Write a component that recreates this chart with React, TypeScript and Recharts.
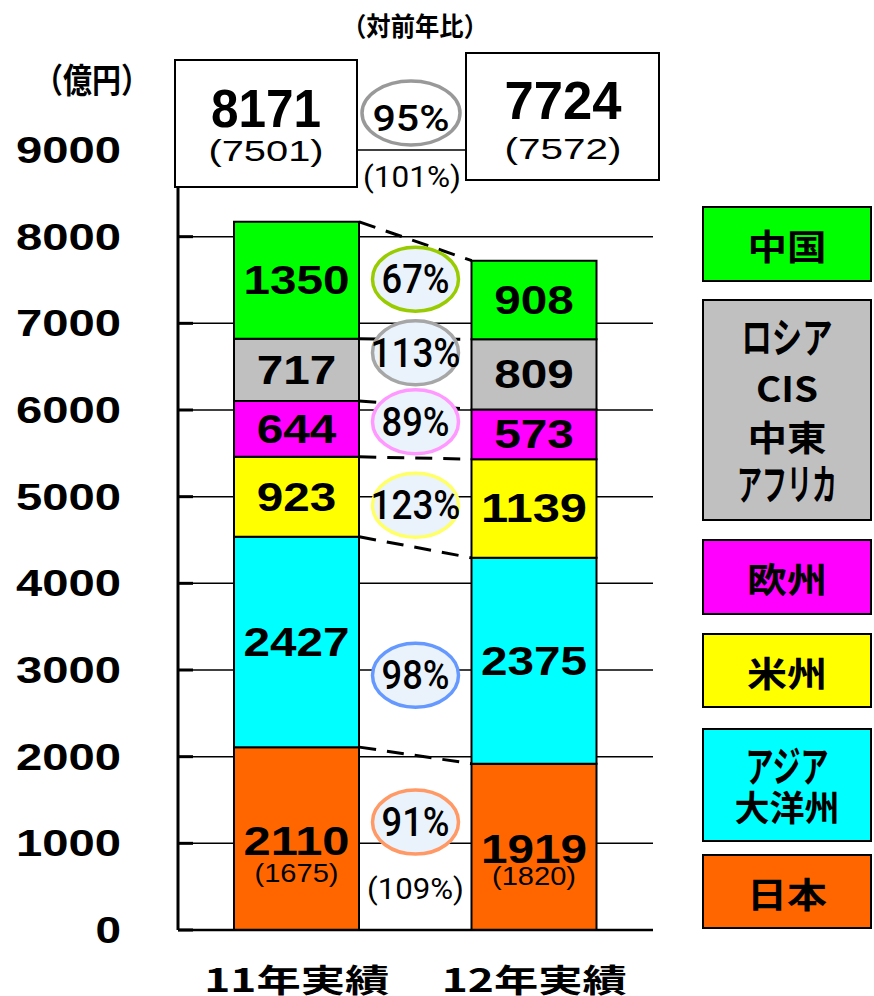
import React from "react";
import {
  BarChart,
  Bar,
  XAxis,
  YAxis,
  CartesianGrid,
  LabelList,
  ReferenceLine,
  ReferenceDot
} from "recharts";

const NUM = "'Liberation Sans', Arial, sans-serif";
const NARROW = "Roboto, 'Liberation Sans', Arial, sans-serif";
const JP = "'Noto Sans CJK JP', 'Noto Sans CJK SC', sans-serif";

// data
const years = ["11年実績", "12年実績"];
const regionKeys = ["japan", "asia", "americas", "europe", "russia", "china"];
const regionNames = [["日本"], ["アジア", "大洋州"], ["米州"], ["欧州"], ["ロシア", "CIS", "中東", "アフリカ"], ["中国"]];
const sales11 = [2110, 2427, 923, 644, 717, 1350];
const sales12 = [1919, 2375, 1139, 573, 809, 908];
const japanPrev = [1675, 1820];
const totals = [8171, 7724];
const totalsPrev = [7501, 7572];
const ratios = ["91%", "98%", "123%", "89%", "113%", "67%"];
const totalRatio = "95%";
const totalRatioPrev = "(101%)";
const japanRatioPrev = "(109%)";
const yTicks = [0, 1000, 2000, 3000, 4000, 5000, 6000, 7000, 8000, 9000];

// where the ratio ellipses sit (in 億円 on the y axis)
const ratioLevels = [1245, 2940, 4900, 5865, 6660, 7510];
const japanRatioPrevLevel = 490;

const fills = ["#FF6600", "#00FFFF", "#FFFF00", "#FF00FF", "#C0C0C0", "#00FF00"];
const rings = ["#FF9966", "#6699FF", "#FFFF66", "#FF99FF", "#A6A6A6", "#99CC00"];

const data = years.map((year, i) => {
  const row: any = { year };
  const vals = i === 0 ? sales11 : sales12;
  regionKeys.forEach((k, j) => (row[k] = vals[j]));
  return row;
});

// cumulative tops of each segment, for the dashed connectors
const cum = (vals: number[]) => vals.map((_, j) => vals.slice(0, j + 1).reduce((a, b) => a + b, 0));
const tops11 = cum(sales11);
const tops12 = cum(sales12);

const BAR = 125;
const HALF_BAND = 118.75;

const YTick = (props: any) => {
  const { y, payload } = props;
  const s = String(payload.value);
  return (
    <text x={121} y={y + 13} textAnchor="end" fontFamily={NUM} fontWeight="bold" fontSize={37}
      textLength={s.length * 26.5 - 1} lengthAdjust="spacingAndGlyphs" fill="#000">
      {s}
    </text>
  );
};

const XTick = (props: any) => {
  const { x, y, payload } = props;
  return (
    <text x={x} y={y + 54} textAnchor="middle" fontFamily={JP} fontWeight="bold" fontSize={32}
      textLength={185} lengthAdjust="spacingAndGlyphs" fill="#000">
      {payload.value}
    </text>
  );
};

const makeLabel = (key: string) => (props: any) => {
  const { x, y, width, height, value, index } = props;
  const cx = x + width / 2;
  const cy = y + height / 2;
  const s = String(value);
  if (key === "japan") {
    const sub = `(${japanPrev[index]})`;
    return (
      <g>
        <text x={cx} y={cy + 2 + 14} textAnchor="middle" fontFamily={NUM} fontWeight="bold" fontSize={40}
          textLength={s.length * 26.5} lengthAdjust="spacingAndGlyphs" fill="#000">{s}</text>
        <text x={cx} y={cy + (index === 0 ? 34 : 29) + 9} textAnchor="middle" fontFamily={NUM} fontSize={26}
          textLength={84} lengthAdjust="spacingAndGlyphs" fill="#000">{sub}</text>
      </g>
    );
  }
  return (
    <text x={cx} y={cy + 14} textAnchor="middle" fontFamily={NUM} fontWeight="bold" fontSize={40}
      textLength={s.length * 26.5} lengthAdjust="spacingAndGlyphs" fill="#000">{s}</text>
  );
};

const connector = (p: any) => (
  <line x1={p.x1 + BAR / 2} y1={p.y1} x2={p.x2 - BAR / 2} y2={p.y2}
    stroke="#000" strokeWidth={3} strokeDasharray="17 11" />
);

const ratioBadge = (label: string, ring: string) => (p: any) => {
  const cx = p.cx + HALF_BAND;
  return (
    <g>
      <ellipse cx={cx} cy={p.cy} rx={43} ry={32} fill="#EAF3FC" stroke={ring} strokeWidth={3.5} />
      <text x={cx} y={p.cy + 14} textAnchor="middle" fontFamily={NARROW} fontWeight={500} fontSize={40}
        textLength={label.length > 3 ? 90 : 68} lengthAdjust="spacingAndGlyphs" fill="#000">{label}</text>
    </g>
  );
};

const plainNote = (label: string) => (p: any) => (
  <text x={p.cx + HALF_BAND} y={p.cy + 11} textAnchor="middle" fontFamily={NARROW} fontSize={30}
    textLength={97} lengthAdjust="spacingAndGlyphs" fill="#000">{label}</text>
);

const legendBoxes = [
  { y: 855, h: 73 },
  { y: 729, h: 112 },
  { y: 634, h: 73 },
  { y: 540, h: 74 },
  { y: 300, h: 220 },
  { y: 207, h: 74 }
];
const legendWidths: Record<string, number> = {
  "日本": 80, "アジア": 83, "大洋州": 105, "米州": 80, "欧州": 80,
  "ロシア": 91, "CIS": 62, "中東": 79, "アフリカ": 100, "中国": 79
};
const kana = /^[\u30A0-\u30FF]+$/;

export default function App() {
  return (
    <div style={{ position: "absolute", left: 0, top: 0, width: 874, height: 996, background: "#fff" }}>
      <BarChart width={874} height={996} data={data} margin={{ top: 150, right: 221, left: 0, bottom: 0 }}>
        <CartesianGrid vertical={false} stroke="#000" strokeWidth={1.5} />
        <XAxis dataKey="year" height={66} axisLine={{ stroke: "#000", strokeWidth: 2.5 }} tickLine={false} tick={<XTick />} />
        <YAxis domain={[0, 9000]} ticks={yTicks} width={178} interval={0}
          axisLine={{ stroke: "#000", strokeWidth: 3 }} tickLine={{ stroke: "#000", strokeWidth: 3 }} tickSize={-15}
          tick={<YTick />} />
        {regionKeys.map((k, j) => (
          <Bar key={k} dataKey={k} stackId="s" fill={fills[j]} stroke="#000" strokeWidth={2} barSize={BAR} isAnimationActive={false}>
            <LabelList dataKey={k} content={makeLabel(k)} />
          </Bar>
        ))}
        {tops11.map((t, j) => (
          <ReferenceLine key={"c" + j} segment={[{ x: years[0], y: t }, { x: years[1], y: tops12[j] }]} shape={connector} />
        ))}
        {ratios.map((r, j) => (
          <ReferenceDot key={"r" + j} x={years[0]} y={ratioLevels[j]} r={1} shape={ratioBadge(r, rings[j])} />
        ))}
        <ReferenceDot x={years[0]} y={japanRatioPrevLevel} r={1} shape={plainNote(japanRatioPrev)} />
      </BarChart>
      <svg width={874} height={996} style={{ position: "absolute", left: 0, top: 0, pointerEvents: "none" }}>
        <text x={415} y={36} textAnchor="middle" fontFamily={JP} fontWeight="bold" fontSize={26}
          textLength={146} lengthAdjust="spacingAndGlyphs">（対前年比）</text>
        <text x={92} y={93} textAnchor="middle" fontFamily={JP} fontWeight="bold" fontSize={34}
          textLength={116} lengthAdjust="spacingAndGlyphs">（億円）</text>

        <rect x={175} y={60} width={182} height={127} fill="#fff" stroke="#000" strokeWidth={2} />
        <text x={266} y={127} textAnchor="middle" fontFamily={NUM} fontWeight="bold" fontSize={54}
          textLength={110} lengthAdjust="spacingAndGlyphs">{totals[0]}</text>
        <text x={266} y={161} textAnchor="middle" fontFamily={NUM} fontSize={30}
          textLength={115} lengthAdjust="spacingAndGlyphs">{`(${totalsPrev[0]})`}</text>

        <rect x={466} y={53} width={193} height={127} fill="#fff" stroke="#000" strokeWidth={2} />
        <text x={563} y={119} textAnchor="middle" fontFamily={NUM} fontWeight="bold" fontSize={54}
          textLength={117} lengthAdjust="spacingAndGlyphs">{totals[1]}</text>
        <text x={563} y={159} textAnchor="middle" fontFamily={NUM} fontSize={30}
          textLength={117} lengthAdjust="spacingAndGlyphs">{`(${totalsPrev[1]})`}</text>

        <ellipse cx={411} cy={113} rx={49} ry={32} fill="#fff" stroke="#999" strokeWidth={3.5} />
        <text x={411} y={131} textAnchor="middle" fontFamily={NARROW} fontWeight={500} fontSize={36}
          textLength={77} lengthAdjust="spacingAndGlyphs">{totalRatio}</text>
        <text x={412} y={187} textAnchor="middle" fontFamily={NARROW} fontSize={30}
          textLength={98} lengthAdjust="spacingAndGlyphs">{totalRatioPrev}</text>

        {legendBoxes.map((b, j) => {
          const lines = regionNames[j];
          const gap = lines.length > 2 ? 49 : 39;
          const mid = b.y + b.h / 2 + 3;
          return (
            <g key={j}>
              <rect x={703} y={b.y} width={168} height={b.h} fill={fills[j]} stroke="#000" strokeWidth={2} />
              {lines.map((ln, i) => {
                const fs = kana.test(ln) ? 42 : 35;
                return (
                  <text key={i} x={787} y={mid + (i - (lines.length - 1) / 2) * gap + 13} textAnchor="middle"
                    fontFamily={JP} fontWeight="bold" fontSize={fs}
                    textLength={legendWidths[ln]} lengthAdjust="spacingAndGlyphs">{ln}</text>
                );
              })}
            </g>
          );
        })}
      </svg>
    </div>
  );
}
